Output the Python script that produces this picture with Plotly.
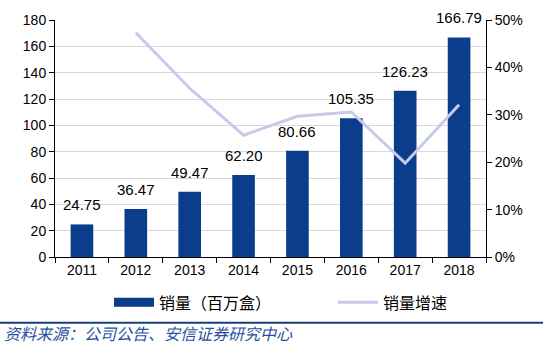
import plotly.graph_objects as go

years = ["2011", "2012", "2013", "2014", "2015", "2016", "2017", "2018"]
sales = [24.75, 36.47, 49.47, 62.20, 80.66, 105.35, 126.23, 166.79]
growth_years = ["2012", "2013", "2014", "2015", "2016", "2017", "2018"]
growth = [0.473, 0.356, 0.257, 0.297, 0.306, 0.198, 0.321]
sales_labels = ["%.2f" % v for v in sales]

font = "Liberation Sans, Arial, Noto Sans CJK SC, sans-serif"
bar_color = "#0c3c8c"
line_color = "#c9c9e9"

fig = go.Figure()
fig.add_trace(go.Bar(
    x=years, y=sales, name="销量（百万盒）", showlegend=False,
    marker=dict(color=bar_color, line=dict(width=0)),
    width=0.42,
))
# legend-only entry with a wide rectangular swatch for the bars
fig.add_trace(go.Scatter(
    x=[None], y=[None], name="销量（百万盒）", mode="lines",
    line=dict(color=bar_color, width=9), legend="legend",
))
fig.add_trace(go.Scatter(
    x=growth_years, y=growth, name="销量增速", yaxis="y2",
    mode="lines", line=dict(color=line_color, width=3), legend="legend2",
))

# value labels above bars (x given as category index)
for i, (yv, lab) in enumerate(zip(sales, sales_labels)):
    fig.add_annotation(x=i, y=yv, xref="x", yref="y", text=lab,
                       showarrow=False, yanchor="bottom", yshift=9,
                       font=dict(size=15, color="black", family=font))

W, H = 543, 353
l, r, t, b = 55, 57, 12, 96
pw, ph = W - l - r, H - t - b

leg_common = dict(orientation="h", xanchor="left", y=-47 / ph, yanchor="middle",
                  bgcolor="rgba(0,0,0,0)",
                  font=dict(size=16, family="Noto Sans CJK SC, sans-serif"),
                  itemwidth=40)

fig.update_layout(
    width=W, height=H,
    margin=dict(l=l, r=r, t=t, b=b),
    paper_bgcolor="white", plot_bgcolor="white",
    font=dict(family=font, size=14, color="black"),
    showlegend=True,
    legend=dict(x=(109 - l) / pw, **leg_common),
    legend2=dict(x=(333 - l) / pw, **leg_common),
    xaxis=dict(type="category", categoryorder="array", categoryarray=years,
               range=[-0.5, len(years) - 0.5],
               showline=True, linecolor="black", linewidth=1,
               ticks="outside", tickson="boundaries", ticklen=5, tickcolor="black",
               tickfont=dict(size=14)),
    yaxis=dict(range=[0, 180], dtick=20, showline=True, linecolor="black",
               ticks="outside", ticklen=5, tickcolor="black",
               showgrid=True, gridcolor="#d9d9d9", gridwidth=1, zeroline=False,
               tickfont=dict(size=14)),
    yaxis2=dict(range=[0, 0.5], dtick=0.1, tickformat=".0%", overlaying="y",
                side="right", showline=True, linecolor="black",
                ticks="outside", ticklen=5, tickcolor="black",
                showgrid=False, zeroline=False, tickfont=dict(size=14)),
)

fig.add_shape(type="line", xref="paper", yref="paper",
              x0=-l / pw, x1=(W - l) / pw, y0=-68 / ph, y1=-68 / ph,
              line=dict(color="#1a3c7c", width=2))
fig.add_annotation(xref="paper", yref="paper", x=(2 - l) / pw, y=-79 / ph,
                   xanchor="left", yanchor="middle", showarrow=False,
                   text="<i>资料来源：公司公告、安信证券研究中心</i>",
                   font=dict(size=16, color="#2a4f9e", family="Noto Sans CJK SC, sans-serif"))

fig.write_html("out.html")
